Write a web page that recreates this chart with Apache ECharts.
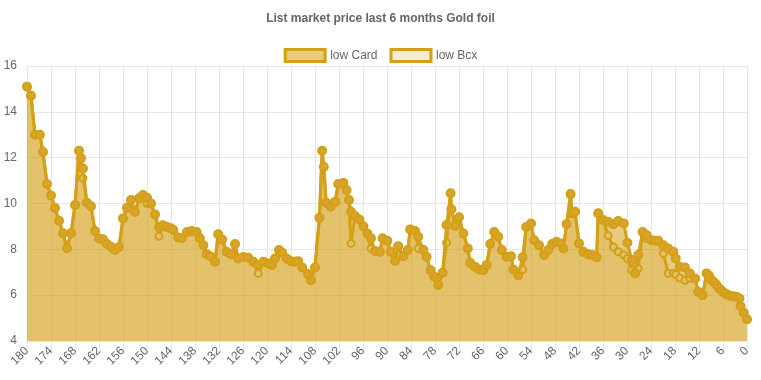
<!DOCTYPE html>
<html>
<head>
<meta charset="utf-8">
<script src="https://cdn.jsdelivr.net/npm/echarts@6/dist/echarts.min.js"></script>
<style>
html,body{margin:0;padding:0;background:#fff;}
#chart{width:761px;height:380px;}
</style>
</head>
<body>
<div id="chart"></div>
<script>
// days ago (x)
var days = [180,179,178,176.8,176,175,174,173,172,171,170,169,168,167,166.5,166,165,164,163,162,161,160,159,158,157,156,155,154,153,152,151,150,149,148,147,146,145,144,143.4,142.2,141.3,140,138.8,137.6,136.8,135.9,135.1,134.2,133,132.2,131.2,130.1,129,128,127.2,125.9,124.7,123.4,122.2,120.9,119.7,118.8,118,117,116.2,115.1,114,113,112.2,111.2,109.8,109,108,106.9,106.2,105.8,105.2,104.1,103,102.2,100.9,100.1,99.5,99,98,96.9,95.9,94.9,94,93,91.8,91.1,89.9,89.1,88,87.2,85.9,84.8,84.2,83,82.2,80.9,80.1,79.1,78.2,77.2,76.1,75.1,74.1,73.9,73,72,70.9,69.8,69.2,68,67,65.9,65.1,64.2,63.2,62.2,61.3,60.1,59,58.4,57.2,56.1,55.2,54,53.2,52,50.7,49.7,48.7,47.6,46.5,45.9,45.1,44.1,43.8,43,42,40.9,39.7,38.7,37.6,37.2,36,34.7,33.4,32.2,30.8,29.9,28.8,28,27.2,26.1,25.1,23.8,23,22.2,20.9,19.7,18.4,17.8,16.8,15.5,14.3,13,12.2,11.1,10.1,9.5,8.8,8.2,7.6,7,6.3,5.7,5.1,4.3,3.4,2.6,1.9,1.6,0.8,0];

var lowCard = [15.1,14.7,13.0,13.0,12.25,10.85,10.35,9.8,9.25,8.7,8.05,8.7,9.93,12.3,11.98,11.53,10.03,9.88,8.8,8.47,8.44,8.23,8.11,7.97,8.1,9.35,9.81,10.15,9.63,10.22,10.37,10.25,10.0,9.52,8.95,9.05,8.97,8.92,8.84,8.52,8.48,8.76,8.8,8.76,8.48,8.18,7.79,7.7,7.46,8.66,8.43,7.89,7.79,8.23,7.6,7.67,7.63,7.46,7.31,7.46,7.38,7.31,7.6,7.97,7.85,7.6,7.48,7.46,7.48,7.21,6.92,6.65,7.21,9.38,12.3,11.6,10.03,9.86,10.07,10.85,10.9,10.59,10.15,9.64,9.45,9.3,9.01,8.69,8.48,7.93,7.89,8.48,8.37,7.89,7.5,8.14,7.7,7.97,8.87,8.8,8.55,7.97,7.67,7.09,6.8,6.44,6.98,9.06,10.45,9.75,9.02,9.4,8.69,8.04,7.41,7.24,7.12,7.09,7.31,8.23,8.76,8.55,7.97,7.67,7.7,7.12,6.87,7.65,8.98,9.13,8.4,8.18,7.75,7.97,8.23,8.33,8.26,8.04,9.1,10.41,9.57,9.64,8.26,7.89,7.79,7.75,7.65,9.57,9.28,9.2,9.1,9.24,9.13,8.29,7.53,6.95,7.75,8.76,8.62,8.4,8.38,8.37,8.18,8.04,7.89,7.6,7.24,7.21,6.95,6.73,6.15,6.0,6.95,6.85,6.65,6.55,6.44,6.3,6.19,6.1,6.04,5.98,5.95,5.92,5.86,5.52,5.23,4.95];

var lowBcx = [15.1,14.7,13.0,13.0,12.25,10.85,10.35,9.8,9.25,8.7,8.05,8.7,9.93,12.3,11.98,11.1,10.03,9.88,8.8,8.47,8.44,8.23,8.11,7.97,8.1,9.35,9.81,10.15,9.63,10.22,10.37,10.0,10.0,9.52,8.57,9.05,8.97,8.92,8.84,8.52,8.48,8.76,8.8,8.76,8.48,8.18,7.79,7.7,7.46,8.66,8.43,7.89,7.79,8.23,7.6,7.67,7.63,7.46,6.95,7.46,7.38,7.31,7.6,7.97,7.85,7.6,7.48,7.46,7.48,7.21,6.92,6.65,7.21,9.38,12.3,11.6,10.03,9.86,10.07,10.85,10.9,10.59,10.15,8.26,9.45,9.3,9.01,8.69,8.04,7.93,7.89,8.48,8.37,7.89,7.5,8.14,7.7,7.97,8.87,8.8,8.04,7.97,7.67,7.09,6.8,6.44,6.98,8.29,10.45,9.75,9.02,9.4,8.69,8.04,7.41,7.24,7.12,7.09,7.31,8.23,8.76,8.55,7.97,7.67,7.7,7.12,6.87,7.12,8.98,9.13,8.4,8.18,7.75,7.97,8.23,8.33,8.26,8.04,9.1,10.41,9.57,9.64,8.26,7.89,7.79,7.75,7.65,9.57,9.28,8.6,8.1,7.9,7.75,7.6,7.09,6.95,7.16,8.76,8.48,8.4,8.38,8.37,7.82,6.95,6.95,6.9,6.75,6.65,6.74,6.73,6.15,6.0,6.95,6.85,6.65,6.55,6.44,6.3,6.19,6.1,6.04,5.98,5.95,5.92,5.86,5.52,5.23,4.95];

var seriesNames = ['low Card', 'low Bcx'];
var titleText = 'List market price last 6 months Gold foil';

var LINE = '#d4a017';
var CARD_FILL = 'rgba(212,160,23,0.55)';
var BCX_FILL = 'rgba(212,160,23,0.2)';
var FONT = '"Liberation Sans", Arial, Helvetica, sans-serif';
var GRID = '#e6e6e6';

var chart = echarts.init(document.getElementById('chart'), null, {renderer: 'canvas'});
chart.setOption({
  animation: false,
  backgroundColor: '#fff',
  title: {
    text: titleText,
    left: 'center',
    top: 8,
    textStyle: {fontSize: 12, fontWeight: 'bold', color: '#666', fontFamily: FONT}
  },
  legend: {
    top: 43,
    left: 'center',
    icon: 'rect',
    itemWidth: 40,
    itemHeight: 12,
    itemGap: 12,
    textStyle: {fontSize: 12, color: '#666', fontFamily: FONT},
    data: [
      {name: seriesNames[0], itemStyle: {color: CARD_FILL, borderColor: LINE, borderWidth: 3}},
      {name: seriesNames[1], itemStyle: {color: BCX_FILL, borderColor: LINE, borderWidth: 3}}
    ]
  },
  grid: {left: 27, right: 14, top: 66, bottom: 39, containLabel: false},
  xAxis: {
    type: 'value',
    min: 0,
    max: 180,
    interval: 6,
    inverse: true,
    axisLine: {show: false},
    axisTick: {show: true, length: 8, lineStyle: {color: GRID}},
    splitLine: {show: true, lineStyle: {color: GRID, width: 1}},
    axisLabel: {rotate: 45, color: '#666', fontSize: 12, fontFamily: FONT, margin: 8, showMinLabel: true, showMaxLabel: true}
  },
  yAxis: {
    type: 'value',
    min: 4,
    max: 16,
    interval: 2,
    axisLine: {show: false},
    axisTick: {show: true, length: 8, lineStyle: {color: GRID}},
    splitLine: {show: true, lineStyle: {color: GRID, width: 1}},
    axisLabel: {color: '#666', fontSize: 12, fontFamily: FONT, margin: 10}
  },
  series: [
    {
      name: seriesNames[1],
      type: 'line',
      data: days.map(function (d, i) { return [d, lowBcx[i]]; }),
      symbol: 'circle',
      symbolSize: 7,
      showSymbol: true,
      lineStyle: {color: LINE, width: 3},
      itemStyle: {color: '#f6ecd2', borderColor: LINE, borderWidth: 2},
      areaStyle: {color: BCX_FILL, opacity: 1, origin: 'start'},
      z: 2
    },
    {
      name: seriesNames[0],
      type: 'line',
      data: days.map(function (d, i) { return [d, lowCard[i]]; }),
      symbol: 'circle',
      symbolSize: 8,
      showSymbol: true,
      lineStyle: {color: LINE, width: 3},
      itemStyle: {color: '#d8a42a', borderColor: LINE, borderWidth: 2},
      areaStyle: {color: CARD_FILL, opacity: 1, origin: 'start'},
      z: 3
    }
  ]
});
</script>
</body>
</html>
